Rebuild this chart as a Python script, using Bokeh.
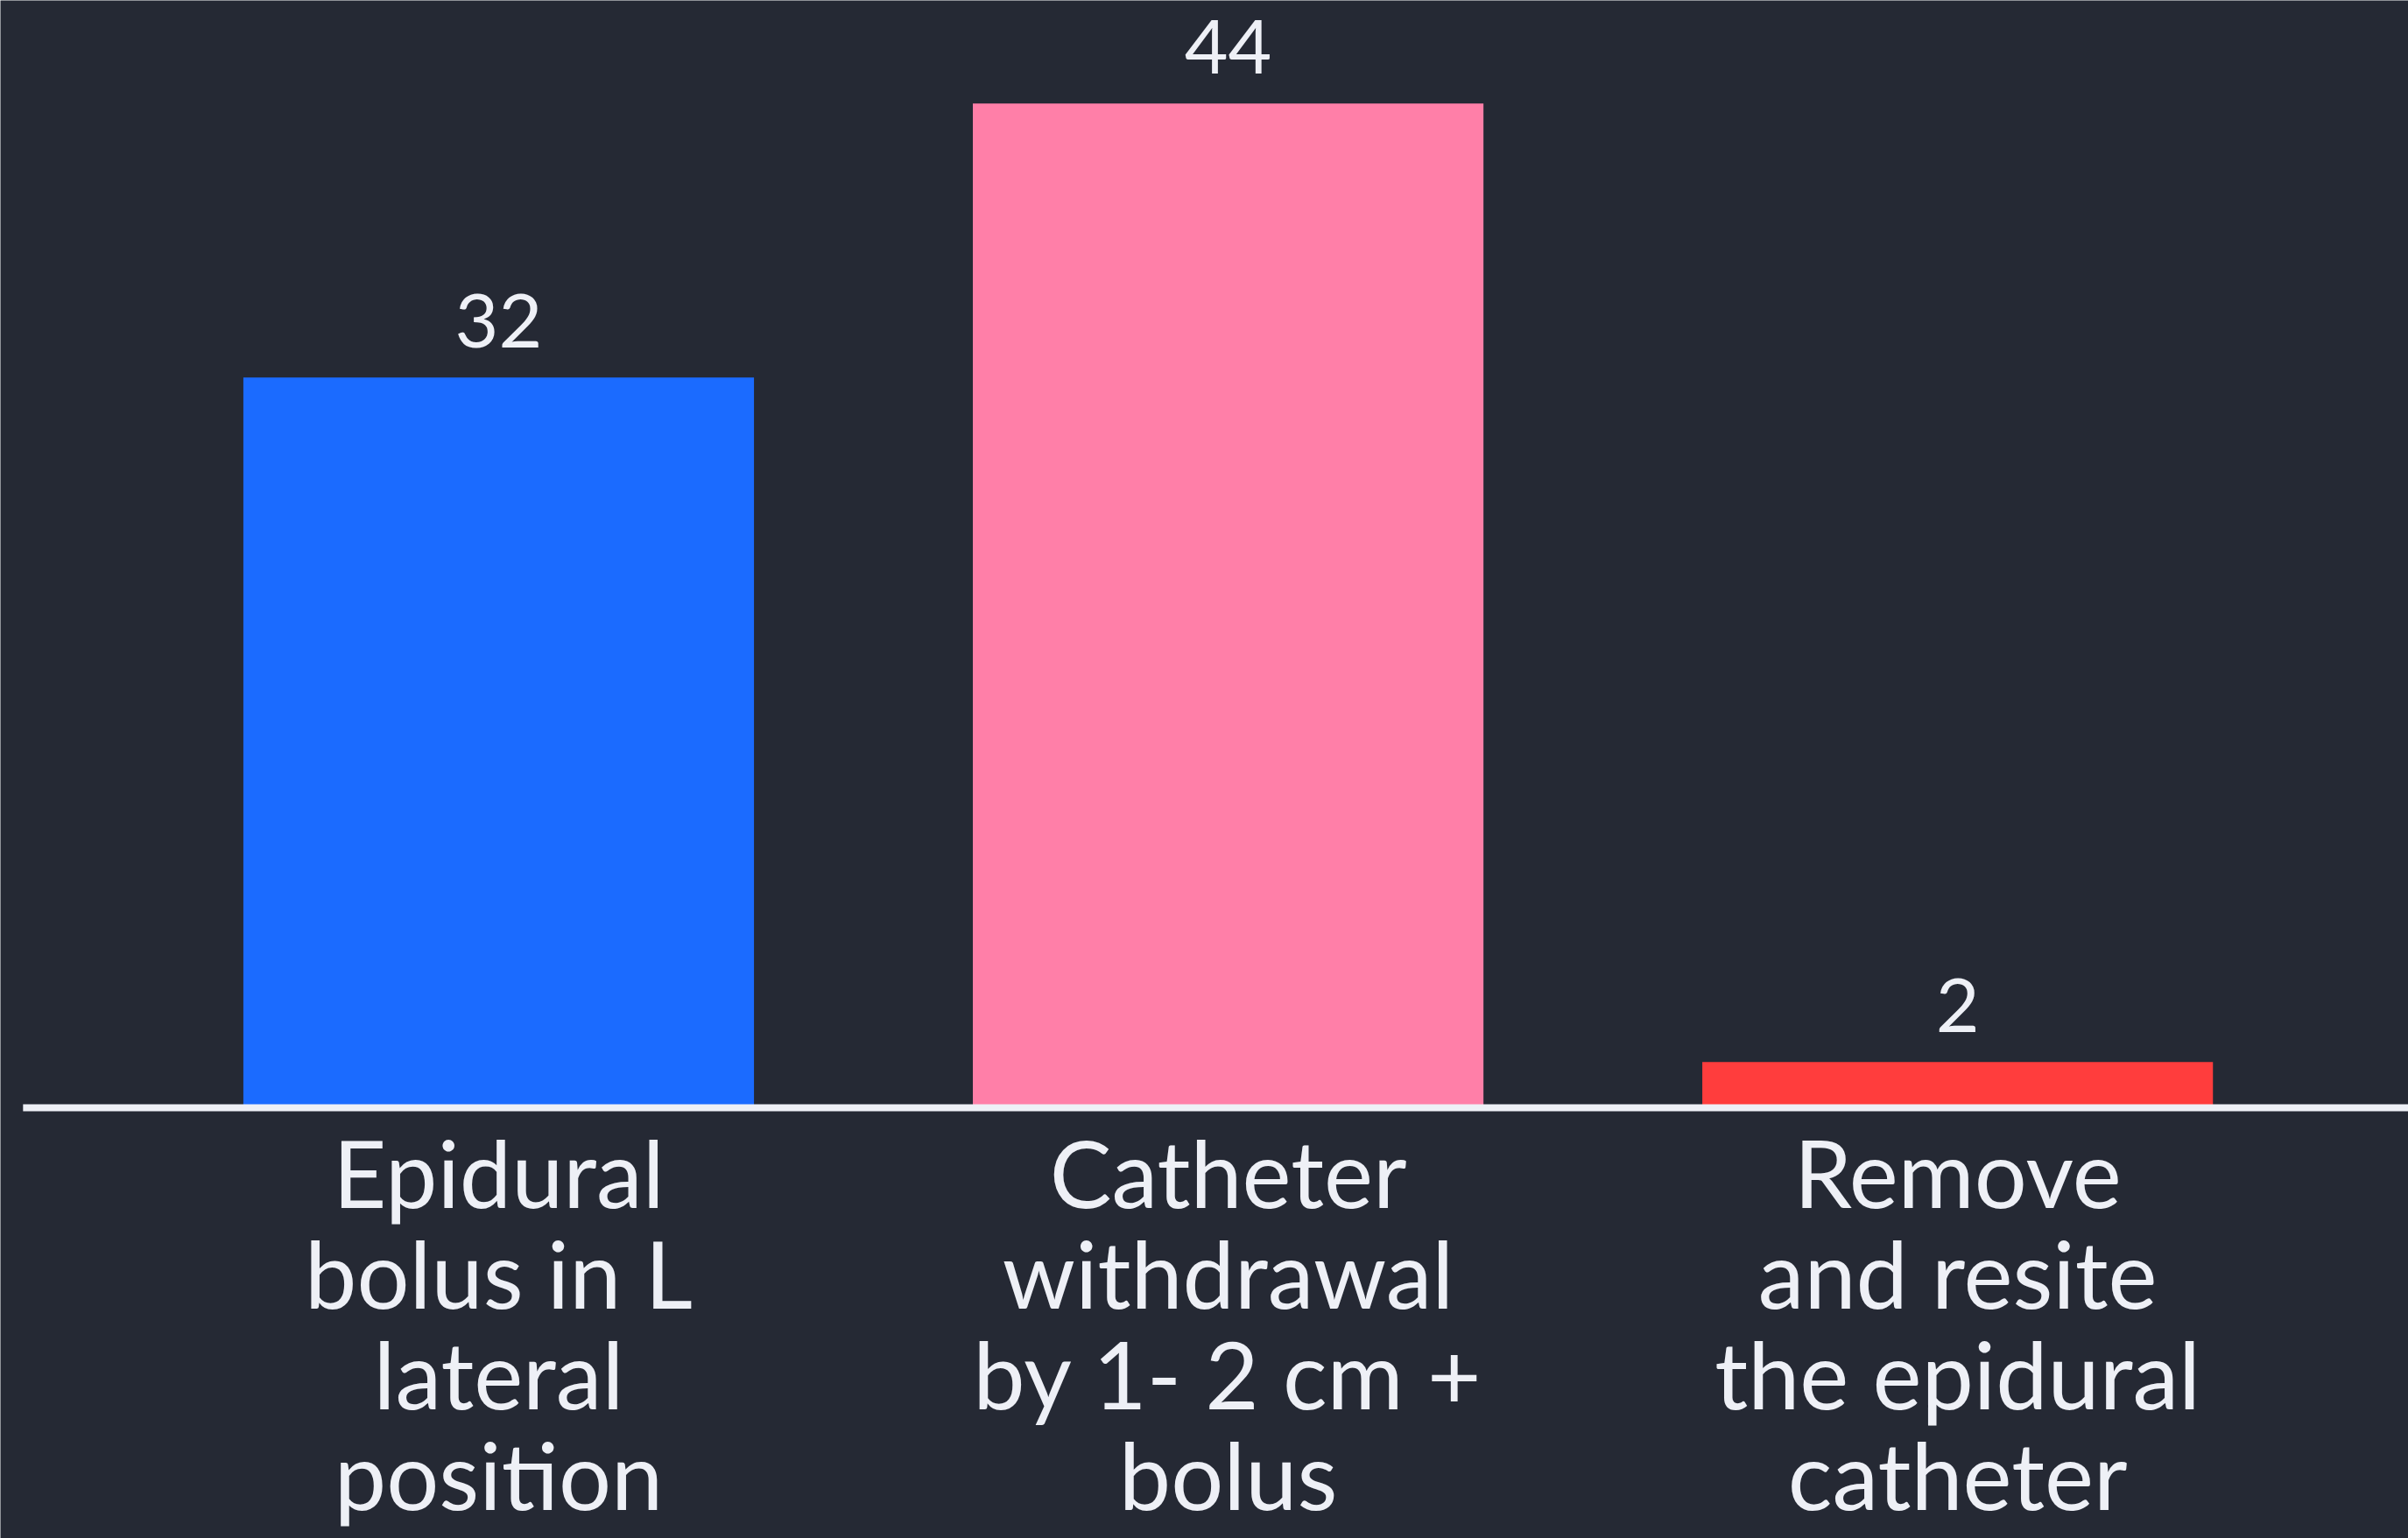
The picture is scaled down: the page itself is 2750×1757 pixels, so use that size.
from bokeh.plotting import figure
from bokeh.models import ColumnDataSource, Range1d
from bokeh.core.properties import value
from bokeh.embed import file_html
from bokeh.resources import INLINE

# Responses to a unilateral / inadequate epidural block
categories = [
    "Epidural\nbolus in L\nlateral\nposition",
    "Catheter\nwithdrawal\nby 1- 2 cm +\nbolus",
    "Remove\nand resite\nthe epidural\ncatheter",
]
counts = [32, 44, 2]
bar_colors = ["#1b6bff", "#ff7fa8", "#ff3d3d"]

BG = "#252934"
INK = "#eef0f6"
FONT = "Lato"

idx = list(range(len(categories)))
source = ColumnDataSource(data=dict(
    x=idx,
    count=counts,
    label=[str(c) for c in counts],
    cat=categories,
    color=bar_colors,
    zero=[0] * len(counts),
))

W, H = 2750, 1757
p = figure(
    width=W, height=H,
    x_range=Range1d(-0.683, 2.618),
    y_range=Range1d(-18.87, 48.52),
    output_backend="svg",
    toolbar_location=None,
    min_border=0,
)
p.background_fill_color = BG
p.border_fill_color = BG
p.outline_line_color = None
p.xgrid.visible = False
p.ygrid.visible = False
p.xaxis.visible = False
p.yaxis.visible = False

# bars
p.vbar(x="x", top="count", bottom=0, width=0.7, fill_color="color",
       line_color=None, source=source)

# baseline
p.segment(x0=[-0.652], y0=[0], x1=[2.618], y1=[0], line_color=INK, line_width=8)

# value labels above bars
p.text(x="x", y="count", text="label", source=source,
       text_font=value(FONT), text_font_size="86px", text_color=INK,
       text_align="center", text_baseline="alphabetic", y_offset=-65)

# category labels below the baseline
p.text(x="x", y="zero", text="cat", source=source,
       text_font=value(FONT), text_font_size="106px", text_color=INK,
       text_align="center", text_baseline="top", text_line_height=0.9,
       y_offset=9)

open("out.html", "w").write(file_html(p, INLINE))
